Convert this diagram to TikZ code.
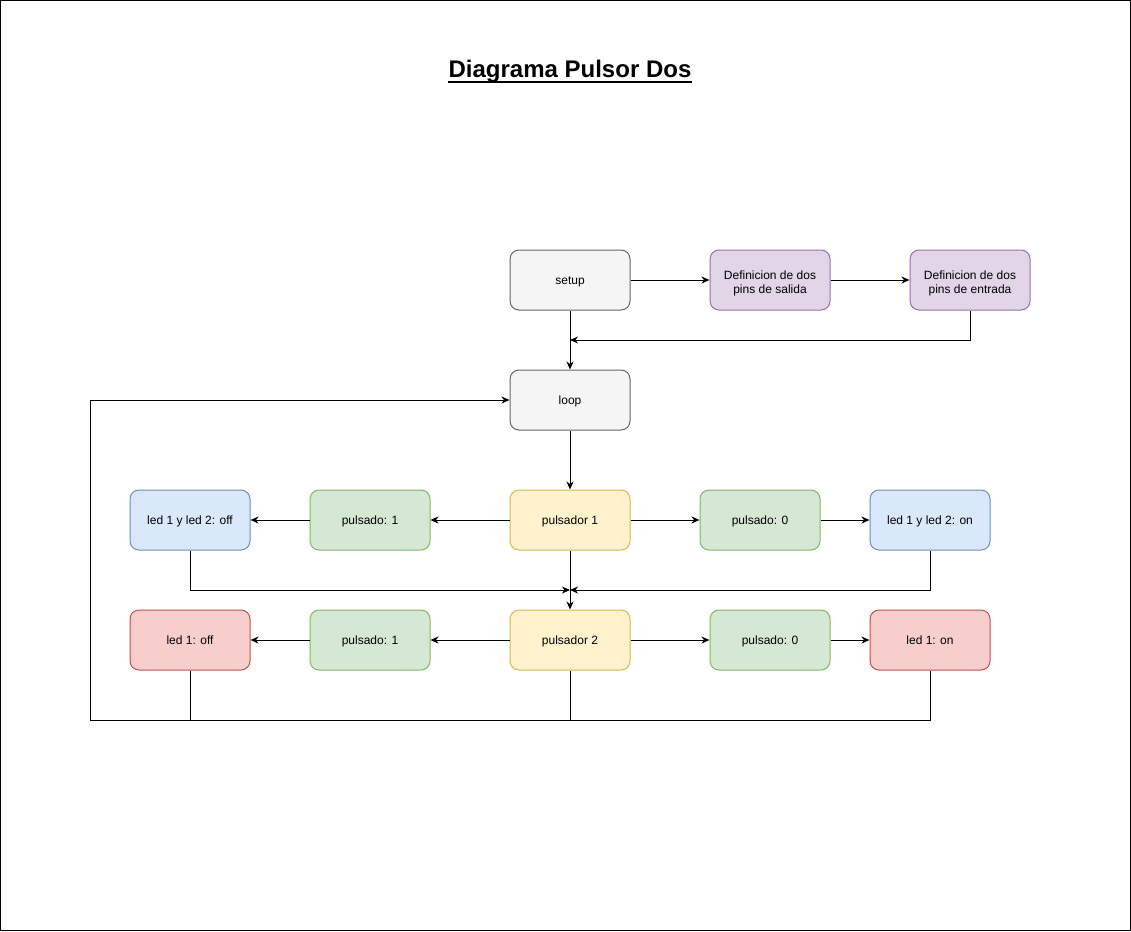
\documentclass[tikz,border=0pt]{standalone}
\usepackage{fontspec}
\setmainfont{Liberation Sans}
\usetikzlibrary{arrows.meta}
\definecolor{grayfill}{HTML}{F5F5F5}
\definecolor{graydraw}{HTML}{666666}
\definecolor{purfill}{HTML}{E1D5E7}
\definecolor{purdraw}{HTML}{9673A6}
\definecolor{yelfill}{HTML}{FFF2CC}
\definecolor{yeldraw}{HTML}{D6B656}
\definecolor{grefill}{HTML}{D5E8D4}
\definecolor{gredraw}{HTML}{82B366}
\definecolor{blufill}{HTML}{DAE8FC}
\definecolor{bludraw}{HTML}{6C8EBF}
\definecolor{redfill}{HTML}{F8CECC}
\definecolor{reddraw}{HTML}{B85450}
\tikzset{
  box/.style={rectangle, rounded corners=9pt, minimum width=120pt, minimum height=60pt,
    line width=1pt, align=center, inner sep=0pt, text height=10pt, text depth=2pt,
    font=\fontsize{12}{14}\selectfont},
  twoline/.style={text height=28pt, text depth=2pt},
  graybox/.style={box, fill=grayfill, draw=graydraw},
  purbox/.style={box, fill=purfill, draw=purdraw},
  yelbox/.style={box, fill=yelfill, draw=yeldraw},
  grebox/.style={box, fill=grefill, draw=gredraw},
  blubox/.style={box, fill=blufill, draw=bludraw},
  redbox/.style={box, fill=redfill, draw=reddraw},
  arr/.style={line width=1pt, -{Stealth[length=8pt,width=7pt,inset=2.5pt]}},
  ln/.style={line width=1pt},
}
\begin{document}
\begin{tikzpicture}[x=1pt,y=-1pt]
\useasboundingbox (0,0) rectangle (1131,931);
\draw[line width=1pt] (0.5,0.5) rectangle (1130.5,930.5);

\node[font=\fontsize{24}{28}\selectfont\bfseries, anchor=base, inner sep=0pt] (title) at (570,78) {Diagrama Pulsor Dos};
\draw[line width=2pt] ([yshift=-4pt]title.base west) -- ([yshift=-4pt]title.base east);

\node[graybox] (setup) at (570,280) {setup};
\node[purbox, twoline] (defs) at (770,280) {Definicion de dos\\pins de salida};
\node[purbox, twoline] (defe) at (970,280) {Definicion de dos\\pins de entrada};
\node[graybox] (loop) at (570,400) {loop};

\node[yelbox] (p1) at (570,520) {pulsador 1};
\node[grebox] (pl1) at (370,520) {pulsado: 1};
\node[blubox] (off12) at (190,520) {led 1 y led 2: off};
\node[grebox] (pr1) at (760,520) {pulsado: 0};
\node[blubox] (on12) at (930,520) {led 1 y led 2: on};

\node[yelbox] (p2) at (570,640) {pulsador 2};
\node[grebox] (pl2) at (370,640) {pulsado: 1};
\node[redbox] (off1) at (190,640) {led 1: off};
\node[grebox] (pr2) at (770,640) {pulsado: 0};
\node[redbox] (on1) at (930,640) {led 1: on};

\coordinate (j1) at (570,340);
\coordinate (j2) at (570,590);
\coordinate (j3) at (570,720);
\coordinate (c1) at (90,720);

\draw[arr] (setup) -- (defs);
\draw[arr] (defs) -- (defe);
\draw[arr] (defe.south) |- (j1);
\draw[arr] (setup) -- (loop);
\draw[arr] (loop) -- (p1);

\draw[arr] (p1) -- (pl1);
\draw[arr] (pl1) -- (off12);
\draw[arr] (p1) -- (pr1);
\draw[arr] (pr1) -- (on12);
\draw[arr] (off12.south) |- (j2);
\draw[arr] (on12.south) |- (j2);
\draw[arr] (p1) -- (p2);

\draw[arr] (p2) -- (pl2);
\draw[arr] (pl2) -- (off1);
\draw[arr] (p2) -- (pr2);
\draw[arr] (pr2) -- (on1);

\draw[ln] (p2.south) -- (j3);
\draw[ln] (off1.south) -- (off1.south |- c1);
\draw[arr] (on1.south) |- (c1) |- (loop.west);
\end{tikzpicture}
\end{document}
